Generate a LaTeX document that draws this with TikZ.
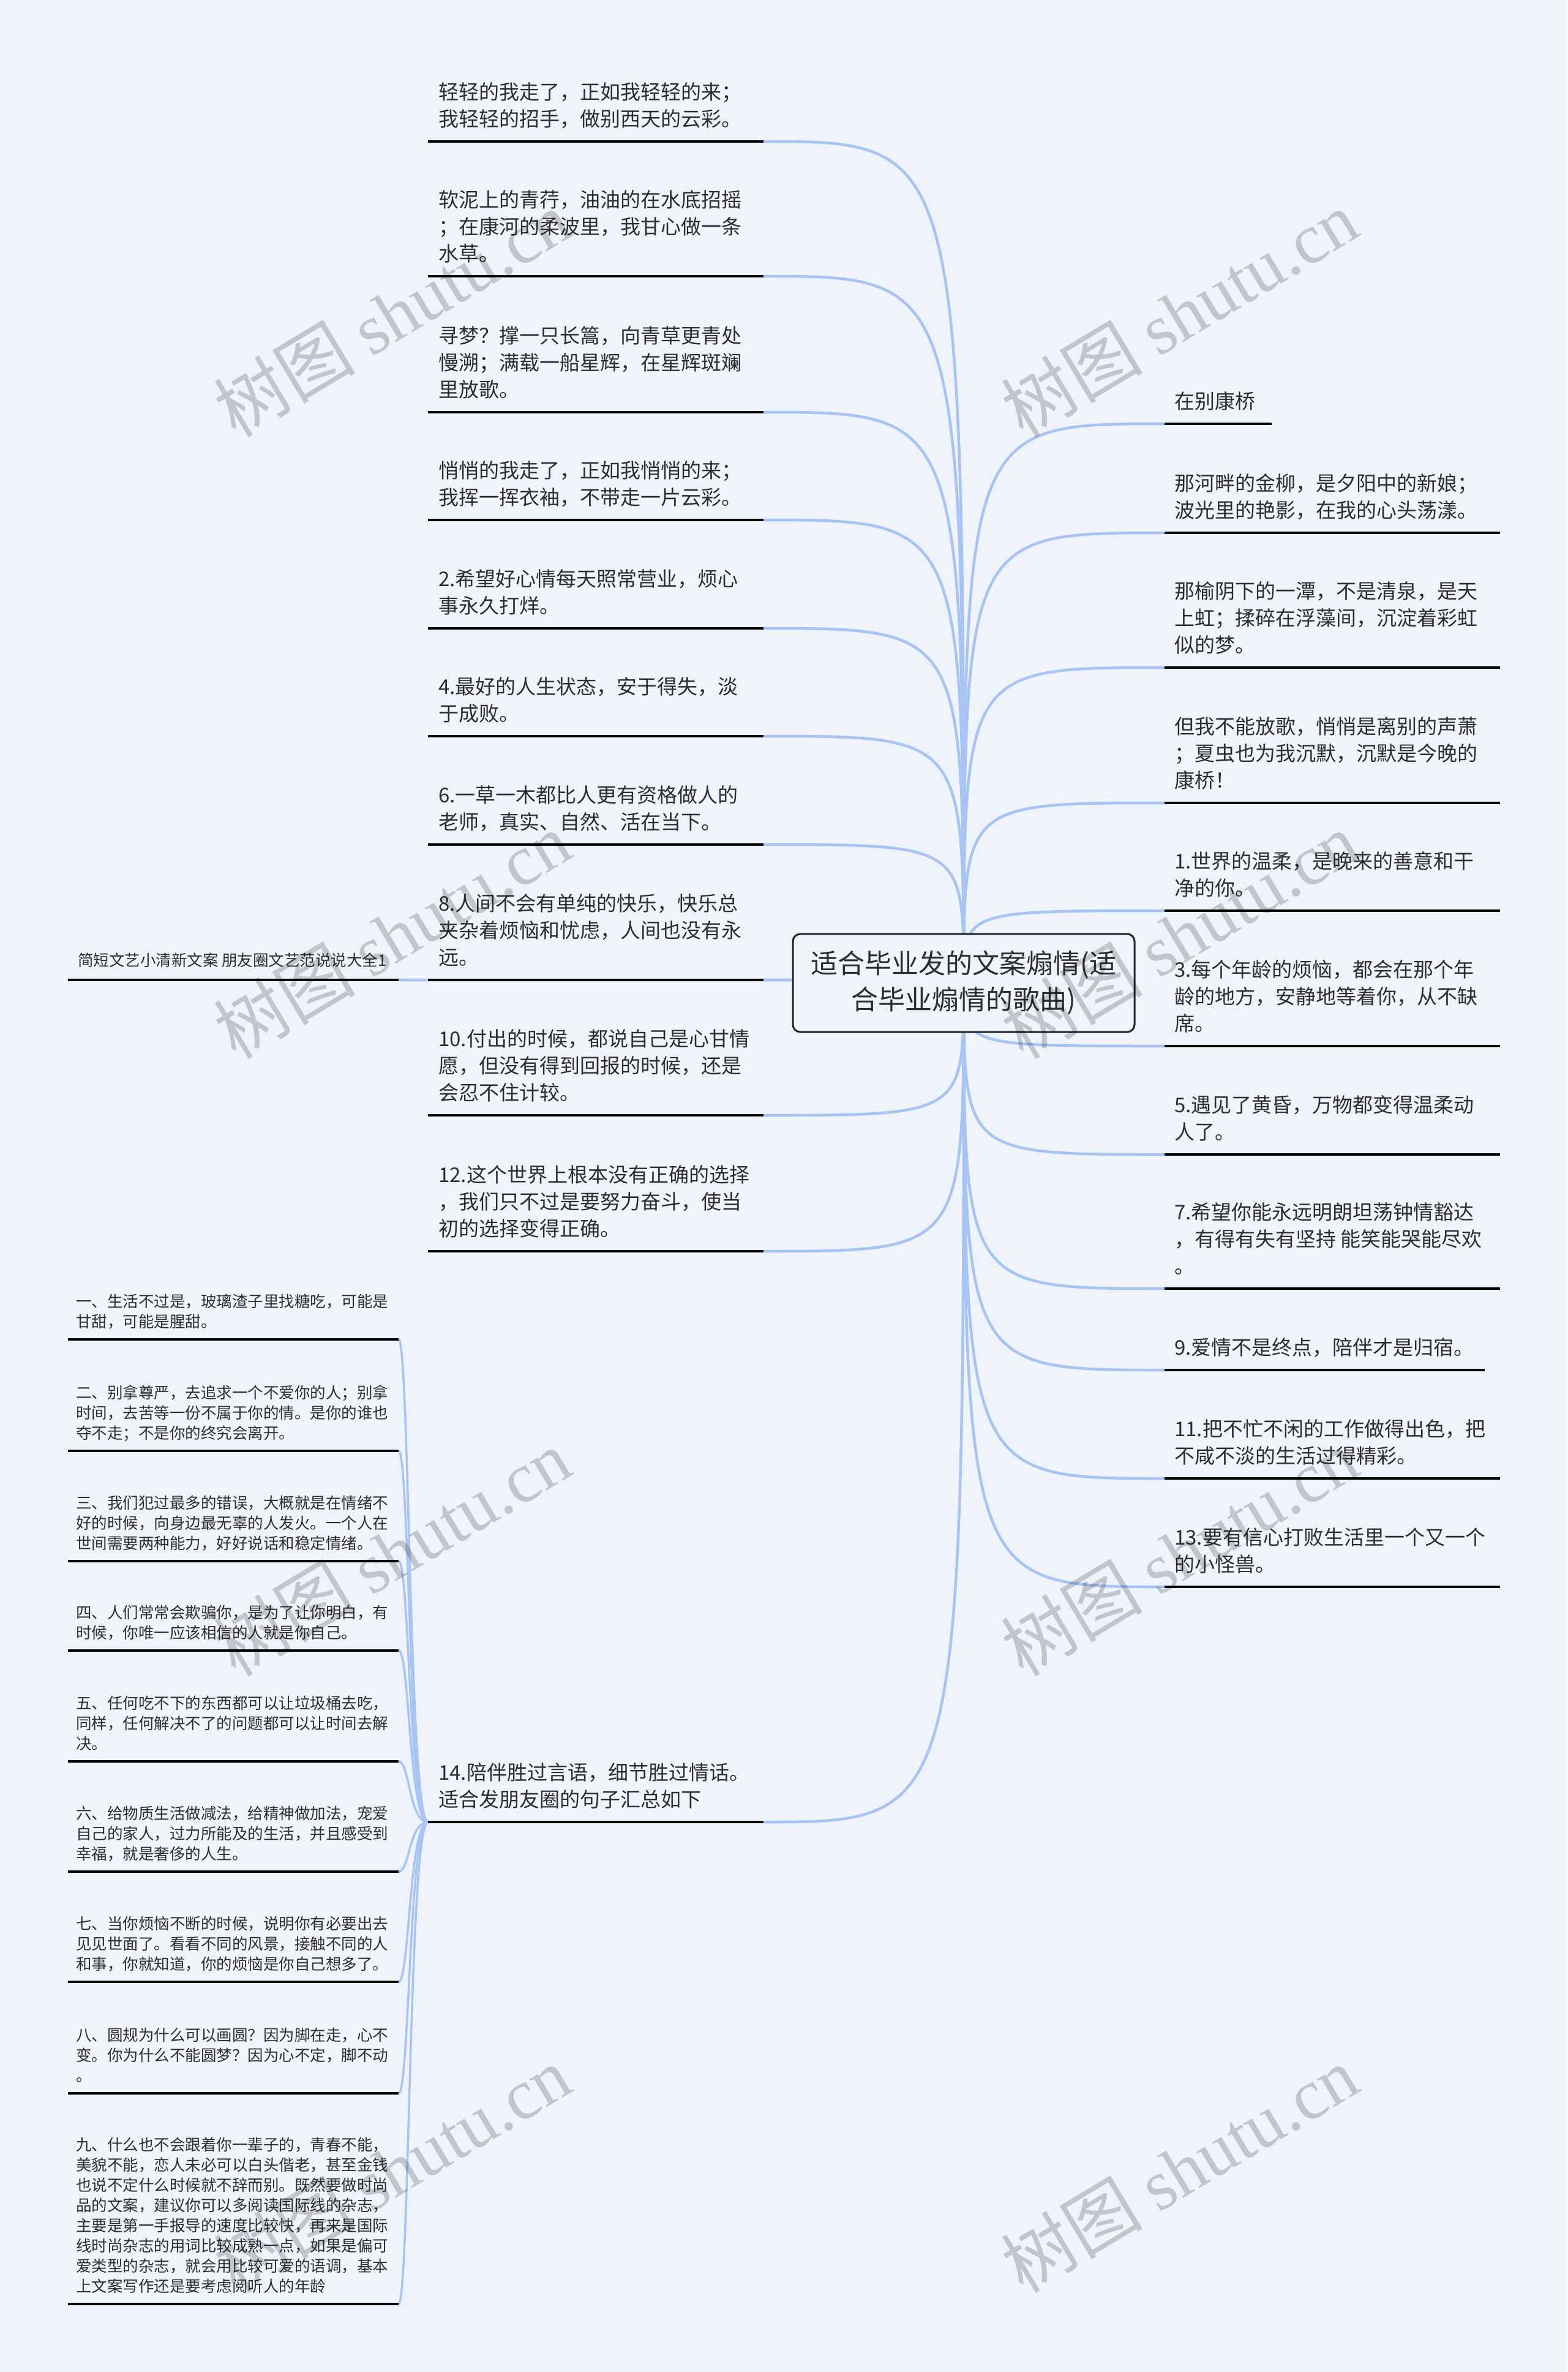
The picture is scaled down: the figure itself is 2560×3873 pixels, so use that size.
\documentclass[tikz,border=0pt]{standalone}
\usepackage{fontspec}
\setmainfont{Noto Sans CJK SC}
\newfontfamily\wmcjk{Noto Sans CJK SC}
\newfontfamily\wmlat{Liberation Serif}
\usetikzlibrary{calc}
\definecolor{bgcol}{RGB}{239,243,251}
\definecolor{conncol}{RGB}{167,196,245}
\definecolor{txtcol}{RGB}{45,45,45}
\pgfdeclarelayer{back}
\pgfdeclarelayer{links}
\pgfsetlayers{back,links,main}
\tikzset{
  connline/.style={draw=conncol, line width=4.5pt},
  subconn/.style={draw=conncol, line width=3.5pt},
  uline/.style={draw=black, line width=3.5pt},
  maintext/.style={anchor=south west, inner sep=0pt, text depth=0pt, align=left, text=txtcol, font=\fontsize{33}{44}\selectfont},
  smalltext/.style={anchor=south west, inner sep=0pt, text depth=0pt, align=left, text=txtcol, font=\fontsize{25.5}{33}\selectfont},
  rootbox/.style={draw=black!85, line width=3pt, rounded corners=12pt, fill=bgcol, minimum width=558pt, minimum height=160pt, align=center, inner sep=0pt, text=txtcol, font=\fontsize{44}{59}\selectfont},
  wmark/.style={rotate=31, text=black, text opacity=0.19, inner sep=0pt, font=\fontsize{116}{116}\selectfont}
}
% left item: name, y of underline, text
\newcommand\LItem[3]{%
  \coordinate (#1w) at (699,#2);
  \coordinate (#1e) at (1247,#2);
  \draw[uline] (#1w) -- (#1e);
  \node[maintext] (#1) at (716,#2-24) {#3};
  \begin{pgfonlayer}{links}
    \draw[connline] (root.center) .. controls (root.center |- #1e) .. (#1e);
  \end{pgfonlayer}
}
% right item: [underline end x], name, y, text
\newcommand\RItem[4][2450]{%
  \coordinate (#2w) at (1902,#3);
  \coordinate (#2e) at (#1,#3);
  \draw[uline] (#2w) -- (#2e);
  \node[maintext] (#2) at (1918,#3-24) {#4};
  \begin{pgfonlayer}{links}
    \draw[connline] (root.center) .. controls (root.center |- #2w) .. (#2w);
  \end{pgfonlayer}
}
% child of L11: name, y, text
\newcommand\SItem[3]{%
  \coordinate (#1w) at (111,#2);
  \coordinate (#1e) at (651,#2);
  \draw[uline] (#1w) -- (#1e);
  \node[smalltext] (#1) at (124,#2-19.5) {#3};
  \begin{pgfonlayer}{links}
    \draw[subconn] (L11w) .. controls +(-31,0) and +(18,0) .. (#1e);
  \end{pgfonlayer}
}
\begin{document}
\begin{tikzpicture}[x=1pt,y=-1pt]
\useasboundingbox (0,0) rectangle (2560,3873);
\begin{pgfonlayer}{back}
  \fill[bgcol] (0,0) rectangle (2560,3873);
\end{pgfonlayer}

\node[rootbox] (root) at (1574,1605) {适合毕业发的文案煽情(适\\合毕业煽情的歌曲)};

% far-left item
\coordinate (Qw) at (111,1600);
\coordinate (Qe) at (651,1600);
\draw[uline] (Qw) -- (Qe);
\node[smalltext] (Q) at (127,1600-22) {简短文艺小清新文案 朋友圈文艺范说说大全1};
\begin{pgfonlayer}{links}
  \draw[connline] (root.center) .. controls (root.center |- Qe) .. (Qe);
\end{pgfonlayer}

% left column
\LItem{L1}{231}{轻轻的我走了，正如我轻轻的来；\\我轻轻的招手，做别西天的云彩。}
\LItem{L2}{451}{软泥上的青荇，油油的在水底招摇\\；在康河的柔波里，我甘心做一条\\水草。}
\LItem{L3}{673}{寻梦？撑一只长篙，向青草更青处\\慢溯；满载一船星辉，在星辉斑斓\\里放歌。}
\LItem{L4}{849}{悄悄的我走了，正如我悄悄的来；\\我挥一挥衣袖，不带走一片云彩。}
\LItem{L5}{1026}{2.希望好心情每天照常营业，烦心\\事永久打烊。}
\LItem{L6}{1202}{4.最好的人生状态，安于得失，淡\\于成败。}
\LItem{L7}{1379}{6.一草一木都比人更有资格做人的\\老师，真实、自然、活在当下。}
\LItem{L8}{1600}{8.人间不会有单纯的快乐，快乐总\\夹杂着烦恼和忧虑，人间也没有永\\远。}
\LItem{L9}{1821}{10.付出的时候，都说自己是心甘情\\愿，但没有得到回报的时候，还是\\会忍不住计较。}
\LItem{L10}{2043}{12.这个世界上根本没有正确的选择\\，我们只不过是要努力奋斗，使当\\初的选择变得正确。}
\LItem{L11}{2975}{14.陪伴胜过言语，细节胜过情话。\\适合发朋友圈的句子汇总如下}

% right column
\RItem[2077]{R1}{692}{在别康桥}
\RItem{R2}{870}{那河畔的金柳，是夕阳中的新娘；\\波光里的艳影，在我的心头荡漾。}
\RItem{R3}{1090}{那榆阴下的一潭，不是清泉，是天\\上虹；揉碎在浮藻间，沉淀着彩虹\\似的梦。}
\RItem{R4}{1311}{但我不能放歌，悄悄是离别的声萧\\；夏虫也为我沉默，沉默是今晚的\\康桥！}
\RItem{R5}{1487}{1.世界的温柔，是晚来的善意和干\\净的你。}
\RItem{R6}{1708}{3.每个年龄的烦恼，都会在那个年\\龄的地方，安静地等着你，从不缺\\席。}
\RItem{R7}{1885}{5.遇见了黄昏，万物都变得温柔动\\人了。}
\RItem{R8}{2104}{7.希望你能永远明朗坦荡钟情豁达\\，有得有失有坚持 能笑能哭能尽欢\\。}
\RItem[2425]{R9}{2237}{9.爱情不是终点，陪伴才是归宿。}
\RItem{R10}{2414}{11.把不忙不闲的工作做得出色，把\\不咸不淡的生活过得精彩。}
\RItem{R11}{2591}{13.要有信心打败生活里一个又一个\\的小怪兽。}

% children of L11
\SItem{S1}{2187}{一、生活不过是，玻璃渣子里找糖吃，可能是\\甘甜，可能是腥甜。}
\SItem{S2}{2369}{二、别拿尊严，去追求一个不爱你的人；别拿\\时间，去苦等一份不属于你的情。是你的谁也\\夺不走；不是你的终究会离开。}
\SItem{S3}{2549}{三、我们犯过最多的错误，大概就是在情绪不\\好的时候，向身边最无辜的人发火。一个人在\\世间需要两种能力，好好说话和稳定情绪。}
\SItem{S4}{2695}{四、人们常常会欺骗你，是为了让你明白，有\\时候，你唯一应该相信的人就是你自己。}
\SItem{S5}{2876}{五、任何吃不下的东西都可以让垃圾桶去吃，\\同样，任何解决不了的问题都可以让时间去解\\决。}
\SItem{S6}{3056}{六、给物质生活做减法，给精神做加法，宠爱\\自己的家人，过力所能及的生活，并且感受到\\幸福，就是奢侈的人生。}
\SItem{S7}{3236}{七、当你烦恼不断的时候，说明你有必要出去\\见见世面了。看看不同的风景，接触不同的人\\和事，你就知道，你的烦恼是你自己想多了。}
\SItem{S8}{3418}{八、圆规为什么可以画圆？因为脚在走，心不\\变。你为什么不能圆梦？因为心不定，脚不动\\。}
\SItem{S9}{3762}{九、什么也不会跟着你一辈子的，青春不能，\\美貌不能，恋人未必可以白头偕老，甚至金钱\\也说不定什么时候就不辞而别。既然要做时尚\\品的文案，建议你可以多阅读国际线的杂志，\\主要是第一手报导的速度比较快，再来是国际\\线时尚杂志的用词比较成熟一点，如果是偏可\\爱类型的杂志，就会用比较可爱的语调，基本\\上文案写作还是要考虑阅听人的年龄}

% watermarks
\foreach \wx in {640,1926}{
  \foreach \wy in {512,1527,2535,3542}{
    \node[wmark] (wm-\wx-\wy) at (\wx,\wy) {{\wmcjk 树图} {\wmlat shutu.cn}};
  }
}
\end{tikzpicture}
\end{document}
